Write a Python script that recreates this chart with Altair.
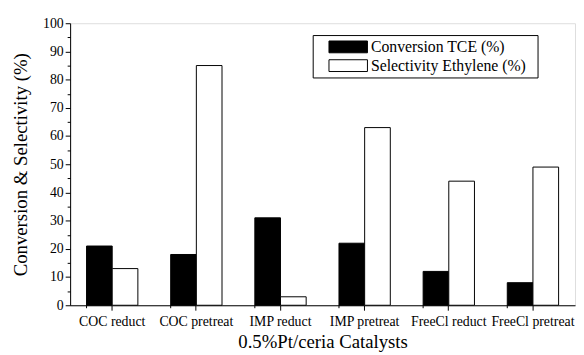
import altair as alt
import pandas as pd

categories = ["COC reduct", "COC pretreat", "IMP reduct", "IMP pretreat",
              "FreeCl reduct", "FreeCl pretreat"]
series_names = ["Conversion TCE (%)", "Selectivity Ethylene (%)"]
conversion = [21, 18, 31, 22, 12, 8]
selectivity = [13, 85, 3, 63, 44, 49]

rows = []
for c, a, b in zip(categories, conversion, selectivity):
    rows.append({"category": c, "series": series_names[0], "value": a})
    rows.append({"category": c, "series": series_names[1], "value": b})
df = pd.DataFrame(rows)
cats = pd.DataFrame({"category": categories})

FONT = "Liberation Serif"
W, H = 512, 286

xscale = alt.Scale(paddingInner=0.39, paddingOuter=0.195)

bars = alt.Chart(df).mark_bar(stroke="black", strokeWidth=1).encode(
    x=alt.X("category:N", sort=categories, scale=xscale,
            axis=alt.Axis(title="0.5%Pt/ceria Catalysts", labelAngle=0,
                          labelFontSize=14, labelFont=FONT, labelColor="black",
                          titleFontSize=19, titleFont=FONT, titleFontWeight="normal",
                          titleColor="black", tickSize=5, tickColor="black",
                          domainColor="black", labelPadding=5, titlePadding=4,
                          labelLimit=200)),
    xOffset=alt.XOffset("series:N", sort=series_names,
                        scale=alt.Scale(paddingInner=0, paddingOuter=0)),
    y=alt.Y("value:Q", scale=alt.Scale(domain=[0, 100], nice=False),
            axis=alt.Axis(title="Conversion & Selectivity (%)",
                          values=list(range(0, 101, 5)),
                          labelExpr="datum.value % 10 === 0 ? datum.label : ''",
                          tickSize={"condition": {"test": "datum.value % 10 === 0", "value": 5}, "value": 3},
                          labelFontSize=14, labelFont=FONT, labelColor="black",
                          titleFontSize=19, titleFont=FONT, titleFontWeight="normal",
                          titleColor="black", tickColor="black", domainColor="black",
                          grid=False, labelPadding=2, titlePadding=12)),
    color=alt.Color("series:N", sort=series_names,
                    scale=alt.Scale(domain=series_names, range=["black", "white"]),
                    legend=alt.Legend(orient="none", legendX=246, legendY=12,
                                      direction="vertical",
                                      title=" ", titleOrient="right", titlePadding=8,
                                      titleFont=FONT, titleFontSize=16,
                                      strokeColor="black", fillColor="white",
                                      padding=4, symbolOffset=24,
                                      symbolType="M-3,-0.92H3V0.92H-3Z",
                                      symbolSize=169, symbolStrokeColor="black",
                                      symbolStrokeWidth=1,
                                      labelFont=FONT, labelFontSize=16,
                                      labelColor="black", labelOffset=15,
                                      rowPadding=3, labelLimit=300)),
)

minor = alt.Chart(cats).mark_rule(color="black", strokeWidth=1).encode(
    x=alt.X("category:N", sort=categories, bandPosition=0, scale=xscale),
    y=alt.value(H),
    y2=alt.value(H + 3),
)

chart = alt.layer(bars, minor).properties(
    width=W, height=H,
    autosize=alt.AutoSizeParams(type="none"),
    padding={"left": 63, "top": 13, "right": 1, "bottom": 48},
).configure_view(stroke=None).configure(font=FONT)

chart.save("out.html", embed_options={"renderer": "svg", "actions": False})
